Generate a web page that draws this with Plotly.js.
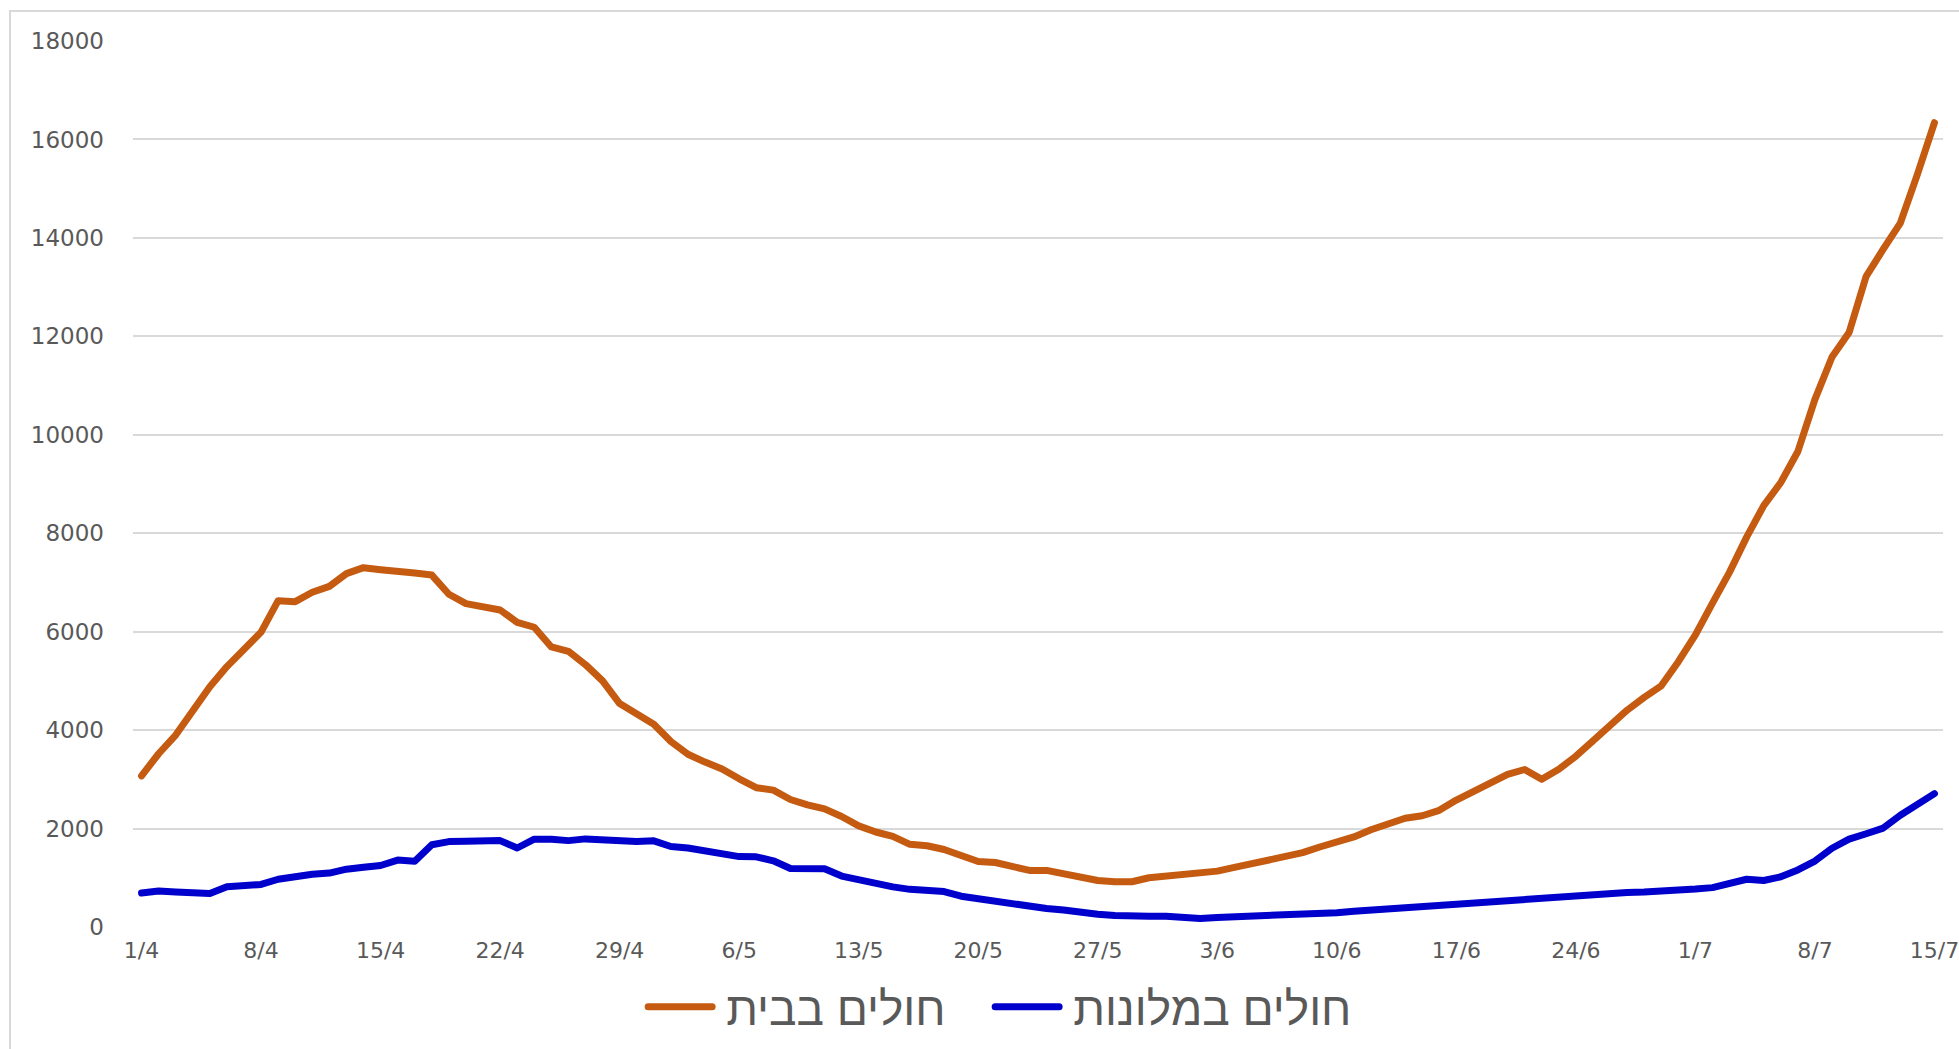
<!DOCTYPE html>
<html>
<head>
<meta charset="utf-8">
<script src="https://cdn.plot.ly/plotly-3.0.1.min.js"></script>
<style>
  html, body { margin: 0; padding: 0; background: #ffffff; overflow: hidden; }
  #wrap { position: relative; width: 1959px; height: 1049px; overflow: hidden; }
  #chart { position: absolute; left: 0; top: 0; width: 1959px; height: 1049px; }
  #frame { position: absolute; left: 9px; top: 10px; width: 2100px; height: 1200px;
           border: 2px solid #D9D9D9; pointer-events: none; z-index: 5; box-sizing: border-box; }
  .scatterlayer path.js-line { stroke-linejoin: round; stroke-linecap: round; }
  .legendlines path { stroke-linecap: round; d: path("M2,0h64"); }
  .legend .scrollbox { clip-path: none !important; }
</style>
</head>
<body>
<div id="wrap">
  <div id="chart"></div>
  <div id="frame"></div>
</div>
<script>
// Day categories (1/4 .. 15/7)
var categories = [
  "1/4","2/4","3/4","4/4","5/4","6/4","7/4","8/4","9/4","10/4","11/4","12/4","13/4","14/4","15/4",
  "16/4","17/4","18/4","19/4","20/4","21/4","22/4","23/4","24/4","25/4","26/4","27/4","28/4","29/4","30/4",
  "1/5","2/5","3/5","4/5","5/5","6/5","7/5","8/5","9/5","10/5","11/5","12/5","13/5","14/5","15/5","16/5",
  "17/5","18/5","19/5","20/5","21/5","22/5","23/5","24/5","25/5","26/5","27/5","28/5","29/5","30/5","31/5",
  "1/6","2/6","3/6","4/6","5/6","6/6","7/6","8/6","9/6","10/6","11/6","12/6","13/6","14/6","15/6",
  "16/6","17/6","18/6","19/6","20/6","21/6","22/6","23/6","24/6","25/6","26/6","27/6","28/6","29/6","30/6",
  "1/7","2/7","3/7","4/7","5/7","6/7","7/7","8/7","9/7","10/7","11/7","12/7","13/7","14/7","15/7"
];

// Patients at home
var atHome = [
  3070,3520,3900,4400,4880,5290,5650,5990,6630,6610,6800,6920,7180,7300,7260,
  7210,7190,7150,6760,6570,6490,6440,6190,6090,5690,5600,5330,5000,4540,4330,
  4120,3770,3510,3350,3210,3010,2830,2780,2590,2480,2400,2245,2055,1930,1840,1680,
  1650,1575,1435,1330,1310,1225,1150,1150,1080,990,945,920,920,1000,1030,
  1060,1110,1135,1210,1290,1365,1420,1510,1625,1730,1830,1975,2095,2210,2260,
  2370,2580,2745,2925,3100,3200,3000,3205,3470,3780,4115,4405,4665,4900,5390,
  5935,6580,7210,7920,8560,9030,9660,10720,11580,12080,13220,13770,14300,15290,16340
];

// Patients in hotels
var inHotels = [
  690,730,710,710,680,820,845,865,970,1030,1070,1095,1175,1215,1250,
  1360,1335,1670,1735,1740,1755,1755,1605,1785,1785,1755,1790,1760,1755,1735,
  1750,1635,1605,1555,1480,1430,1425,1345,1190,1190,1185,1035,950,895,815,765,
  745,720,625,575,530,455,410,375,345,285,260,235,215,220,220,
  195,175,195,205,215,225,240,245,260,290,320,345,350,375,420,
  435,460,505,525,540,560,575,605,645,675,690,700,710,720,745,
  770,800,885,970,945,1020,1160,1340,1600,1785,1895,2010,2270,2510,2710
];

var seriesNames = ["חולים בבית", "חולים במלונות"];
var tickLabels = ["1/4","8/4","15/4","22/4","29/4","6/5","13/5","20/5","27/5","3/6","10/6","17/6","24/6","1/7","8/7","15/7"];
var yTicks = [0,2000,4000,6000,8000,10000,12000,14000,16000,18000];

var boundaryTicks = tickLabels.map(function (l) { return categories.indexOf(l) - 0.5; });
var catRange = [-0.5, categories.length - 0.5];

var traces = [
  { x: categories, y: atHome, name: seriesNames[0], type: 'scatter', mode: 'lines',
    line: { color: '#C55A11', width: 7 }, hoverinfo: 'skip' },
  { x: categories, y: inHotels, name: seriesNames[1], type: 'scatter', mode: 'lines',
    line: { color: '#0000CC', width: 7 }, hoverinfo: 'skip' }
];

var layout = {
  width: 1959, height: 1049,
  margin: { l: 133, r: 16, t: 41, b: 122, autoexpand: false },
  paper_bgcolor: '#ffffff', plot_bgcolor: '#ffffff',
  font: { family: 'DejaVu Sans, Liberation Sans, sans-serif', color: '#595959', size: 22 },
  showlegend: true,
  legend: {
    orientation: 'h', x: 0.2835, xanchor: 'left', y: -0.09, yanchor: 'middle',
    font: { family: 'Liberation Sans, DejaVu Sans, sans-serif', size: 46, color: '#595959' },
    itemwidth: 70, traceorder: 'normal', entrywidthmode: 'pixels', entrywidth: 262,
    bgcolor: 'rgba(0,0,0,0)'
  },
  xaxis: {
    type: 'category', categoryorder: 'array', categoryarray: categories,
    range: catRange, tickmode: 'array', tickvals: tickLabels, ticktext: tickLabels,
    ticks: '', showgrid: false, zeroline: false, showline: false,
    tickfont: { size: 22, color: '#595959', family: 'DejaVu Sans, sans-serif' },
    ticklabelstandoff: 8, fixedrange: true
  },
  xaxis2: {
    overlaying: 'x', anchor: 'y', type: 'linear', range: catRange,
    tickmode: 'array', tickvals: boundaryTicks, showticklabels: false,
    ticks: 'outside', ticklen: 7, tickwidth: 2, tickcolor: '#D9D9D9',
    showgrid: false, zeroline: false, showline: true, linecolor: '#D9D9D9', linewidth: 2,
    fixedrange: true
  },
  yaxis: {
    range: [0, 18000], tickmode: 'array', tickvals: yTicks, tickformat: 'd',
    ticks: '', showgrid: true, gridcolor: '#D9D9D9', gridwidth: 2,
    zeroline: false, showline: false,
    tickfont: { size: 23, color: '#595959', family: 'DejaVu Sans, sans-serif' },
    ticklabelstandoff: 28, fixedrange: true
  }
};

Plotly.newPlot('chart', traces, layout, { displayModeBar: false, staticPlot: true });
</script>
</body>
</html>
